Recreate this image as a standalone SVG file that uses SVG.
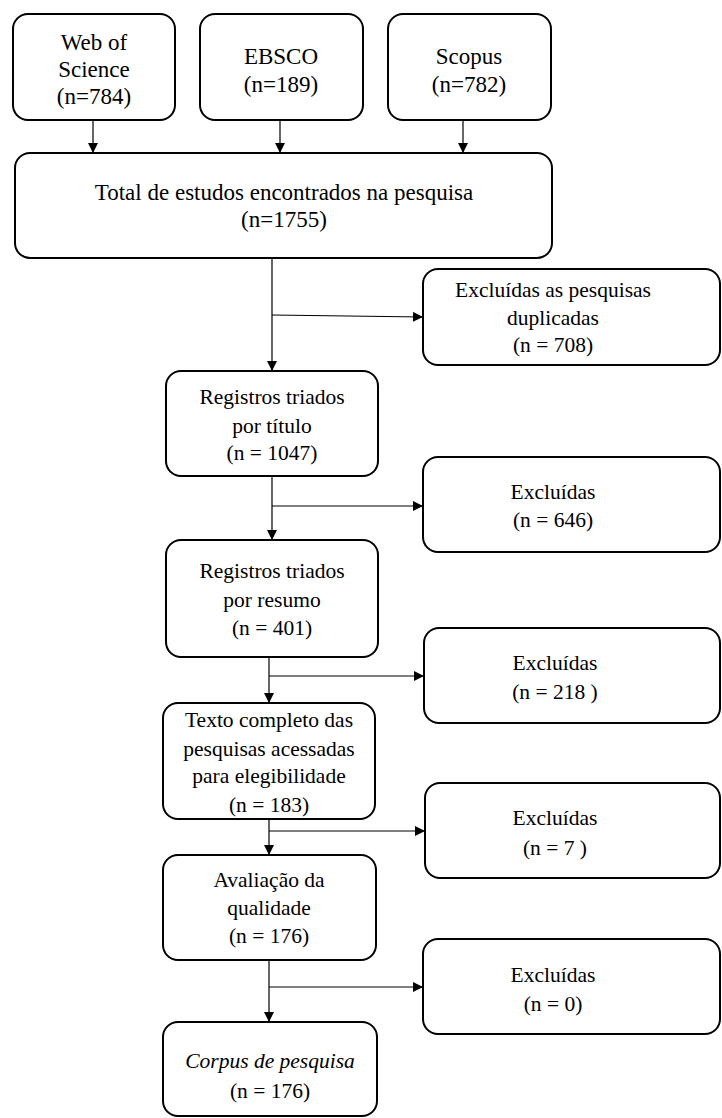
<svg xmlns="http://www.w3.org/2000/svg" width="722" height="1118" viewBox="0 0 722 1118">
<style>
.box{fill:#fff;stroke:#000;stroke-width:2}
.t{font-family:"Liberation Serif","Times New Roman",serif;font-size:21.5px;fill:#000;text-anchor:middle}
.tl{font-size:23px}
.it{font-style:italic}
.c{fill:none;stroke:#000;stroke-width:1.2}
</style>
<defs>
<marker id="ah" viewBox="0 0 10 10" refX="10" refY="5" markerWidth="11" markerHeight="10" markerUnits="userSpaceOnUse" orient="auto">
<path d="M0,0 L10,5 L0,10 z" fill="#000"/>
</marker>
</defs>
<rect width="722" height="1118" fill="#fff"/>
<g id="connectors">
<line class="c" x1="93" y1="120" x2="93" y2="153" marker-end="url(#ah)"/>
<line class="c" x1="280" y1="120" x2="280" y2="153" marker-end="url(#ah)"/>
<line class="c" x1="463" y1="120" x2="463" y2="153" marker-end="url(#ah)"/>
<line class="c" x1="272" y1="258" x2="272" y2="371" marker-end="url(#ah)"/>
<line class="c" x1="272" y1="315" x2="423" y2="317" marker-end="url(#ah)"/>
<line class="c" x1="272" y1="476" x2="272" y2="540" marker-end="url(#ah)"/>
<line class="c" x1="272" y1="506" x2="423" y2="506" marker-end="url(#ah)"/>
<line class="c" x1="269" y1="657" x2="269" y2="703" marker-end="url(#ah)"/>
<line class="c" x1="269" y1="676" x2="424" y2="676" marker-end="url(#ah)"/>
<line class="c" x1="269" y1="819" x2="269" y2="855" marker-end="url(#ah)"/>
<line class="c" x1="269" y1="831" x2="425" y2="831" marker-end="url(#ah)"/>
<line class="c" x1="269" y1="960" x2="269" y2="1022" marker-end="url(#ah)"/>
<line class="c" x1="269" y1="987" x2="423" y2="987" marker-end="url(#ah)"/>
</g>
<g id="wos">
<rect class="box" x="13" y="14" width="162" height="106" rx="15"/>
<text class="t tl" x="94" y="50">Web of</text>
<text class="t tl" x="94" y="77">Science</text>
<text class="t tl" x="94" y="104">(n=784)</text>
</g>
<g id="ebsco">
<rect class="box" x="200" y="14" width="163" height="106" rx="15"/>
<text class="t tl" x="281" y="64">EBSCO</text>
<text class="t tl" x="281" y="92">(n=189)</text>
</g>
<g id="scopus">
<rect class="box" x="388" y="14" width="163" height="106" rx="15"/>
<text class="t tl" x="469" y="64">Scopus</text>
<text class="t tl" x="469" y="92">(n=782)</text>
</g>
<g id="total">
<rect class="box" x="15" y="153" width="537" height="105" rx="15"/>
<text class="t tl" x="284" y="200">Total de estudos encontrados na pesquisa</text>
<text class="t tl" x="284" y="227">(n=1755)</text>
</g>
<g id="dup">
<rect class="box" x="423" y="269" width="297" height="96" rx="15"/>
<text class="t" x="553" y="297">Excluídas as pesquisas</text>
<text class="t" x="553" y="325">duplicadas</text>
<text class="t" x="553" y="352">(n = 708)</text>
</g>
<g id="titulo">
<rect class="box" x="166" y="371" width="212" height="105" rx="15"/>
<text class="t" x="272" y="404">Registros triados</text>
<text class="t" x="272" y="433">por título</text>
<text class="t" x="272" y="460">(n = 1047)</text>
</g>
<g id="exc646">
<rect class="box" x="423" y="457" width="297" height="95" rx="15"/>
<text class="t" x="553" y="499">Excluídas</text>
<text class="t" x="553" y="527">(n = 646)</text>
</g>
<g id="resumo">
<rect class="box" x="166" y="540" width="212" height="117" rx="15"/>
<text class="t" x="272" y="578">Registros triados</text>
<text class="t" x="272" y="607">por resumo</text>
<text class="t" x="272" y="635">(n = 401)</text>
</g>
<g id="exc218">
<rect class="box" x="424" y="628" width="296" height="95" rx="15"/>
<text class="t" x="555" y="670">Excluídas</text>
<text class="t" x="555" y="699">(n = 218 )</text>
</g>
<g id="texto">
<rect class="box" x="163" y="703" width="212" height="116" rx="15"/>
<text class="t" x="269" y="727">Texto completo das</text>
<text class="t" x="269" y="756">pesquisas acessadas</text>
<text class="t" x="269" y="783">para elegibilidade</text>
<text class="t" x="269" y="812">(n = 183)</text>
</g>
<g id="exc7">
<rect class="box" x="425" y="783" width="295" height="95" rx="15"/>
<text class="t" x="555" y="825">Excluídas</text>
<text class="t" x="555" y="855">(n = 7 )</text>
</g>
<g id="avaliacao">
<rect class="box" x="163" y="855" width="213" height="105" rx="15"/>
<text class="t" x="269" y="887">Avaliação da</text>
<text class="t" x="269" y="915">qualidade</text>
<text class="t" x="269" y="943">(n = 176)</text>
</g>
<g id="exc0">
<rect class="box" x="423" y="939" width="297" height="95" rx="15"/>
<text class="t" x="553" y="982">Excluídas</text>
<text class="t" x="553" y="1011">(n = 0)</text>
</g>
<g id="corpus">
<rect class="box" x="163" y="1022" width="214" height="94" rx="15"/>
<text class="t it" x="270" y="1068">Corpus de pesquisa</text>
<text class="t" x="270" y="1098">(n = 176)</text>
</g>
</svg>
